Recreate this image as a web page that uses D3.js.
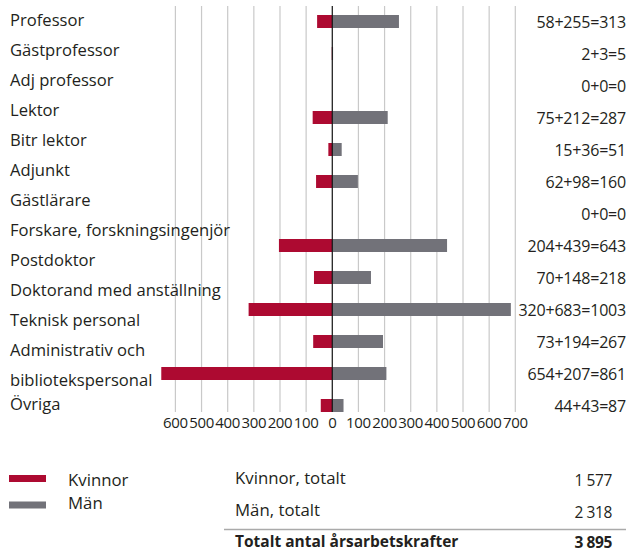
<!DOCTYPE html>
<html><head><meta charset="utf-8">
<script src="https://cdn.jsdelivr.net/npm/d3@7"></script>
<style>
html,body{margin:0;padding:0;background:#fff;}
svg{display:block;font-family:"Open Sans",sans-serif;}
</style></head>
<body><svg id="c" width="630" height="553"></svg>
<script>
const categories = ["Professor","Gästprofessor","Adj professor","Lektor","Bitr lektor","Adjunkt","Gästlärare","Forskare, forskningsingenjör","Postdoktor","Doktorand med anställning","Teknisk personal","Administrativ och\nbibliotekspersonal","Övriga"];
const women = [58,2,0,75,15,62,0,204,70,320,73,654,44];
const men = [255,3,0,212,36,98,0,439,148,683,194,207,43];
const ticks = [-600,-500,-400,-300,-200,-100,0,100,200,300,400,500,600,700];
const legendLabels = ["Kvinnor","Män"];
const totalLabels = ["Kvinnor, totalt","Män, totalt","Totalt antal årsarbetskrafter"];
const totalValues = ["1 577","2 318","3 895"];

const RED = "#ad0a31", GREY = "#727279", TXT = "#231f20";
const svg = d3.select("#c");
const x = d3.scaleLinear().domain([-600,700]).range([175.4,515.3]);
const y = d3.scalePoint().domain(categories).range([21.5,405.5]);
const bh = 13;

// gridlines
svg.append("g").selectAll("line").data(ticks.filter(t=>t!==0)).join("line")
  .attr("x1",d=>x(d)).attr("x2",d=>x(d)).attr("y1",6).attr("y2",412)
  .attr("stroke","#c9c9c9").attr("stroke-width",1.2);

// bars
svg.append("g").selectAll("rect").data(categories).join("rect")
  .attr("x",(d,i)=>x(-women[i])).attr("width",(d,i)=>x(0)-x(-women[i]))
  .attr("y",d=>y(d)-bh/2).attr("height",bh).attr("fill",RED);
svg.append("g").selectAll("rect").data(categories).join("rect")
  .attr("x",x(0)).attr("width",(d,i)=>x(men[i])-x(0))
  .attr("y",d=>y(d)-bh/2).attr("height",bh).attr("fill",GREY);

// zero line
svg.append("line").attr("x1",x(0)).attr("x2",x(0)).attr("y1",6).attr("y2",412)
  .attr("stroke","#111").attr("stroke-width",1.2);

// tick labels
svg.append("g").selectAll("text").data(ticks).join("text")
  .attr("x",d=>x(d)).attr("y",427.5).attr("text-anchor","middle")
  .attr("font-size",15).attr("letter-spacing",-0.35).attr("fill",TXT)
  .text(d=>Math.abs(d));

// category labels (placed on their own text rows)
const lines = [];
categories.forEach((c,i)=>c.split("\n").forEach(l=>lines.push({t:l,i})));
const ly = d3.scaleLinear().domain([0,1]).range([26.3,56.3]);
svg.append("g").selectAll("text").data(lines).join("text")
  .attr("x",10).attr("y",(d,k)=>d.i===categories.length-1 ? y(categories[d.i])+4 : ly(k))
  .attr("font-size",16.6).attr("fill",TXT).text(d=>d.t);

// value labels
svg.append("g").selectAll("text").data(categories).join("text")
  .attr("x",626).attr("y",d=>y(d)+6).attr("text-anchor","end")
  .attr("font-size",16).attr("letter-spacing",-0.2).attr("fill",TXT)
  .text((d,i)=>`${women[i]}+${men[i]}=${women[i]+men[i]}`);

// legend
const lg = svg.append("g");
lg.selectAll("rect").data(legendLabels).join("rect")
  .attr("x",9).attr("y",(d,i)=>475+i*26.5).attr("width",37).attr("height",7)
  .attr("fill",(d,i)=>i?GREY:RED);
lg.selectAll("text").data(legendLabels).join("text")
  .attr("x",68).attr("y",(d,i)=>485.5+i*23).attr("font-size",16.8).attr("fill",TXT).text(d=>d);

// totals table
const tg = svg.append("g");
tg.selectAll("text.l").data(totalLabels).join("text").attr("class","l")
  .attr("x",235).attr("y",(d,i)=>[483.5,515.5,547][i]).attr("font-size",(d,i)=>i===2?15.5:16.8)
  .attr("font-weight",(d,i)=>i===2?700:400).attr("fill",TXT).text(d=>d);
tg.selectAll("text.v").data(totalValues).join("text").attr("class","v")
  .attr("x",612).attr("y",(d,i)=>[486,518,548][i]).attr("text-anchor","end").attr("font-size",15.5)
  .attr("letter-spacing",-0.4)
  .attr("font-weight",(d,i)=>i===2?700:400).attr("fill",TXT).text(d=>d);
tg.append("line").attr("x1",224).attr("x2",626).attr("y1",529.5).attr("y2",529.5)
  .attr("stroke","#aaa").attr("stroke-width",1.5);
</script></body></html>
